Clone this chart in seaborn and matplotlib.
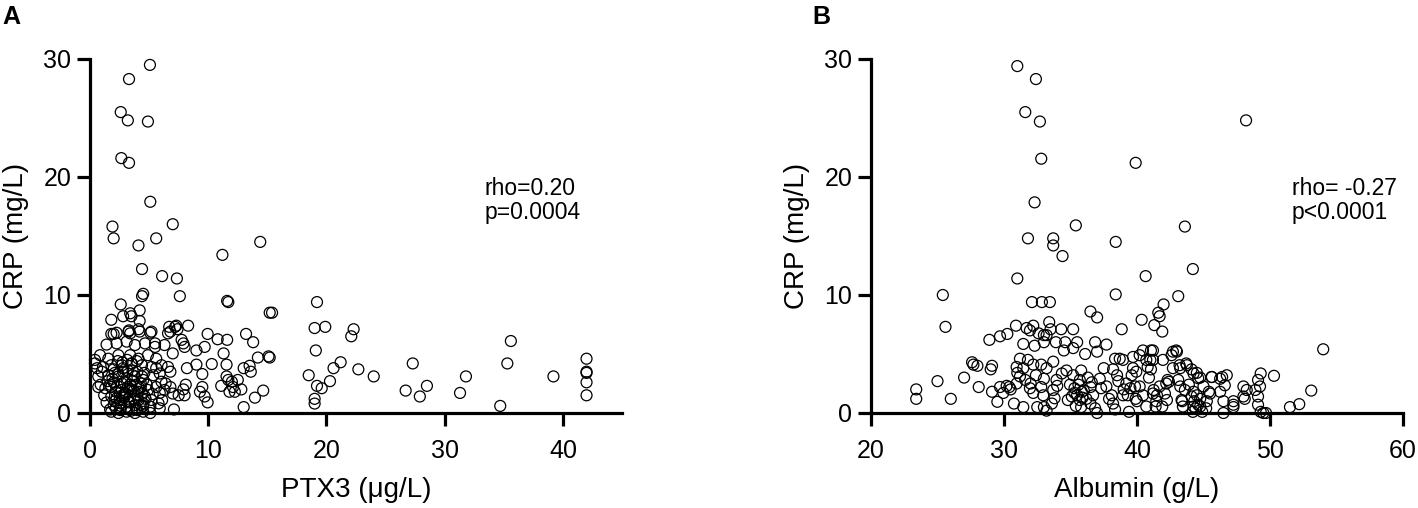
import numpy as np
import pandas as pd
import seaborn as sns
import matplotlib
matplotlib.use('Agg')
import matplotlib.pyplot as plt

# ---- panel A: PTX3 vs CRP ----
ptx3 = [5.07, 3.3, 2.6, 3.2, 4.9, 2.65, 3.3, 5.1, 1.9, 2.0, 7.0, 5.6, 4.1, 14.4, 11.2,
        4.4, 6.1, 7.35, 4.4, 4.5, 7.6, 11.6, 11.7, 15.2, 2.6, 4.2,
        1.8, 2.8, 3.5, 4.2, 3.3, 4.1, 5.2, 7.3, 6.7, 7.2, 8.3, 7.4, 6.6, 1.8, 2.0,
        5.5, 7.0, 7.9, 8.0, 7.75, 9.0, 9.7, 9.95, 10.8, 11.6, 13.2, 13.8, 11.3, 15.1,
        14.2, 10.3, 9.0, 8.2, 6.6, 9.5, 11.55, 13.0, 13.5, 13.6, 11.55, 11.7, 12.0,
        12.1, 11.8, 12.25, 11.1, 12.8, 12.5, 14.65, 13.95, 13.0, 9.5, 9.3, 9.7, 9.95,
        8.1, 7.9, 7.5, 7.0, 8.0, 7.1, 6.8, 6.4, 5.9, 5.6, 5.9, 6.1, 5.9,
        3.4, 2.25, 3.24, 3.4, 4.2, 5.1, 6.8,
        1.4, 2.25, 3.1, 3.8, 4.65, 5.5, 6.3,
        0.85, 1.55, 2.4, 3.4, 4.1, 4.9, 5.6,
        0.42, 1.1, 1.8, 2.7, 3.5, 4.4, 5.2, 6.05, 6.8,
        0.7, 1.55, 2.4, 3.1, 3.8, 4.5, 5.35, 6.05,
        1.3, 1.8, 2.7, 3.4, 4.2, 4.9, 5.6, 6.3,
        1.8, 2.25, 2.7, 3.4, 4.1, 4.65, 5.2,
        2.0, 2.6, 3.1, 3.8, 4.5, 5.1, 5.8,
        1.8, 2.4, 3.1, 3.8, 4.5, 5.1,
        1.7, 2.55, 3.3, 4.0,
        2.0, 2.9, 3.6, 4.3, 2.2, 3.0, 3.7, 4.4, 2.5, 3.3, 4.0, 3.2, 2.8, 3.6, 4.6,
        2.1, 1.5, 1.2, 1.4, 4.8, 5.3, 1.0, 0.6, 0.9, 0.42, 0.7,
        # extra marks in the dark core of the cluster
        1.9, 2.3, 2.7, 3.0, 3.5, 3.9, 4.3, 4.7, 2.1, 2.5, 2.9, 3.3, 3.7, 4.1, 4.5,
        2.0, 2.4, 2.8, 3.2, 3.6, 4.0, 4.4, 1.7, 2.2, 2.6, 3.5, 3.9, 4.3, 2.9, 3.3,
        2.35, 2.75, 3.15, 3.55, 3.95,
        19.2, 19.0, 19.9, 19.1, 22.3, 22.1, 21.2, 20.6, 22.7, 18.5, 24.0, 20.3, 19.2,
        19.6, 19.0, 19.0, 27.3, 26.7, 28.5, 27.9, 31.8, 31.3, 34.7, 35.6, 35.3, 39.2,
        42.0, 42.0, 42.0, 42.0, 42.0, 15.4, 15.2]
crp_a = [29.5, 28.3, 25.5, 24.8, 24.7, 21.6, 21.2, 17.9, 15.8, 14.8, 16.0, 14.8, 14.2, 14.5, 13.4,
         12.2, 11.6, 11.4, 9.9, 10.1, 9.9, 9.5, 9.4, 8.5, 9.2, 8.7,
         7.9, 8.2, 8.2, 7.8, 7.0, 7.1, 6.9, 7.4, 7.3, 7.3, 7.4, 7.1, 6.75, 6.7, 6.7,
         5.9, 5.05, 5.9, 5.6, 6.2, 5.3, 5.6, 6.7, 6.25, 6.2, 6.7, 6.0, 5.05, 4.8,
         4.7, 4.15, 4.1, 3.8, 3.9, 3.3, 4.1, 3.8, 4.0, 3.5, 3.1, 2.8, 2.65,
         2.2, 1.8, 1.8, 2.3, 2.0, 2.8, 1.9, 1.3, 0.5, 2.2, 1.8, 1.4, 0.9,
         2.4, 2.0, 1.5, 1.65, 1.5, 0.3, 2.2, 2.5, 3.35, 3.8, 1.7, 1.1, 0.4,
         8.45, 6.8, 6.9, 6.75, 6.9, 6.8, 6.9,
         5.8, 5.9, 6.05, 5.76, 5.9, 5.6, 5.76,
         4.9, 4.6, 4.9, 4.9, 4.6, 4.9, 4.6,
         4.2, 3.9, 4.05, 4.05, 4.2, 4.05, 3.9, 4.05, 3.5,
         3.1, 3.2, 3.1, 2.95, 3.1, 2.8, 3.2, 2.65,
         2.1, 2.2, 1.95, 2.4, 2.1, 1.95, 2.2, 1.95,
         1.4, 1.25, 1.4, 1.4, 1.1, 1.4, 1.1,
         0.68, 0.82, 0.54, 0.68, 0.82, 0.54, 0.82,
         0.11, 0.0, 0.11, 0.0, 0.11, 0.0,
         0.3, 0.25, 0.3, 0.25,
         2.6, 2.6, 2.7, 2.5, 1.8, 1.7, 1.9, 1.7, 1.1, 1.0, 1.5, 2.2, 3.5, 3.6, 3.4,
         3.4, 2.7, 1.5, 0.9, 2.4, 1.6, 3.5, 3.8, 2.4, 4.5, 2.2,
         2.9, 2.3, 2.5, 1.6, 2.0, 2.4, 2.2, 1.2, 1.0, 1.7, 1.3, 0.9, 1.2, 1.8, 0.6,
         3.7, 3.3, 3.8, 3.6, 3.2, 3.5, 3.1, 2.4, 0.4, 0.6, 0.2, 0.4, 0.7, 1.5, 2.05,
         4.4, 4.3, 4.5, 4.2, 4.4,
         9.4, 7.2, 7.3, 5.3, 7.1, 6.5, 4.3, 3.8, 3.7, 3.2, 3.1, 2.7, 2.3,
         2.1, 1.2, 0.8, 4.2, 1.9, 2.3, 1.4, 3.1, 1.7, 0.6, 6.1, 4.2, 3.1,
         4.6, 3.5, 3.4, 2.6, 1.5, 8.5, 4.7]

# ---- panel B: Albumin vs CRP ----
albumin = [31.0, 32.4, 31.6, 32.7, 32.8, 39.9, 48.2, 32.3, 35.4, 43.6, 31.8, 33.7, 33.7, 34.4,
           38.4, 31.0, 40.65, 44.2, 25.4, 38.4, 43.1,
           23.4, 23.4, 25.0, 25.6, 26.0, 27.0, 27.6, 27.7, 28.0, 28.1, 28.9, 29.1, 29.0,
           29.1, 29.5, 29.7, 30.25, 30.9, 30.2, 30.4, 30.5, 30.75, 32.1, 32.85, 33.45,
           42.0, 41.6, 41.7, 40.35, 41.3, 41.9, 36.5, 37.0, 38.85,
           31.7, 31.95, 32.2, 33.4, 33.5, 34.3, 35.2, 32.6, 33.0, 33.2, 33.0, 33.9, 34.6,
           35.5, 31.45, 32.3, 34.5, 35.2, 36.85, 37.7, 37.0, 36.1, 33.7, 33.2, 32.8, 32.2,
           31.2, 31.8, 30.95, 31.45, 31.2, 30.95, 29.7, 29.95,
           31.45, 32.5, 33.0, 33.6, 31.95, 32.2, 32.8, 32.95, 33.7, 33.95, 33.8, 34.35,
           34.7, 35.2, 35.8, 35.7, 34.96, 35.3, 35.5, 35.7, 35.1, 35.85, 36.5, 36.7, 36.5,
           36.85, 37.2, 37.5, 37.3, 37.7, 38.1, 38.2, 38.35, 38.35, 38.7, 38.95, 38.2,
           38.5, 38.95, 39.3, 39.5, 39.85, 39.2, 39.6, 39.95, 39.7, 39.7, 40.2, 40.45,
           40.7, 41.05, 41.2, 40.8, 41.05, 40.2, 40.45, 40.7, 41.45, 41.2, 41.7, 42.2,
           41.95, 42.7, 42.95, 43.2, 43.7, 42.3, 44.1, 44.5, 44.75, 44.25, 44.5, 44.75,
           44.1, 43.35, 43.45, 44.25, 44.75, 45.5, 45.6, 46.25, 46.75, 46.25, 46.5, 47.25,
           48.0, 48.1,
           54.0, 53.1, 52.2, 51.5, 50.3, 49.3, 49.1, 49.25, 48.9, 49.1, 49.1, 49.5, 49.7,
           48.25, 48.0, 47.25, 47.25, 46.5, 46.4, 46.6, 45.63, 45.4, 45.25, 45.0, 44.6,
           44.25, 44.3, 44.6, 44.4, 45.2, 43.75, 43.25, 43.0, 42.6, 41.2, 41.0, 42.4, 43.1,
           43.25, 43.6, 43.4, 42.1, 42.25, 41.5, 41.4, 41.9, 41.25,
           33.2, 37.0, 39.4, 44.2, 44.9, 49.3, 35.4, 35.8, 35.6, 36.0, 35.3, 36.2,
           31.6, 32.4, 33.0, 31.0, 32.0,
           34.0, 34.8, 36.3, 37.9, 39.0, 40.0, 42.7, 35.9, 36.6, 38.6, 39.9, 40.9, 43.9]
crp_b = [29.4, 28.3, 25.5, 24.7, 21.55, 21.2, 24.8, 17.85, 15.9, 15.8, 14.8, 14.8, 14.2, 13.3,
         14.5, 11.4, 11.6, 12.2, 10.0, 10.05, 9.9,
         2.0, 1.2, 2.7, 7.3, 1.2, 3.0, 4.3, 4.1, 4.0, 2.2, 6.2, 4.0, 3.7,
         1.8, 0.95, 6.5, 6.7, 7.4, 2.3, 2.2, 2.0, 0.8, 9.4, 9.4, 9.4,
         9.2, 8.5, 8.2, 7.9, 7.45, 6.9, 8.6, 8.1, 7.1,
         7.2, 7.0, 7.4, 7.7, 7.1, 7.1, 7.1, 6.75, 6.6, 6.6, 6.0, 6.0, 6.0,
         6.0, 5.85, 5.7, 5.3, 5.5, 6.0, 5.8, 5.2, 5.0, 4.35, 3.8, 4.1, 4.1,
         4.6, 4.5, 3.9, 3.8, 3.1, 2.5, 2.2, 1.7,
         0.5, 0.5, 0.5, 0.8, 2.1, 1.7, 2.2, 1.5, 1.95, 2.8, 1.25, 3.35,
         3.6, 3.2, 3.6, 2.8, 2.4, 2.1, 1.5, 1.1, 1.4, 1.8, 2.2, 1.5, 0.8,
         0.4, 2.9, 3.8, 2.1, 2.25, 1.5, 0.8, 0.3, 4.6, 4.6, 4.5, 3.7,
         3.2, 1.5, 1.5, 2.1, 2.25, 2.5, 3.2, 3.5, 3.8, 4.75, 4.9, 5.3,
         4.5, 5.3, 4.5, 3.9, 3.7, 2.25, 1.5, 0.55, 1.0, 1.65, 2.25, 2.5,
         4.5, 5.2, 5.3, 4.05, 4.2, 2.8, 3.7, 3.4, 3.0, 1.8, 1.5, 1.2,
         1.4, 1.1, 0.55, 0.55, 0.55, 1.65, 3.05, 2.9, 3.2, 1.8, 1.0, 0.7,
         2.25, 1.2,
         5.4, 1.9, 0.75, 0.5, 3.15, 3.35, 2.8, 2.25, 1.95, 1.4, 0.7, 0.0, 0.0,
         1.95, 1.4, 1.0, 0.5, 0.0, 3.05, 2.35, 3.05, 1.8, 1.0, 2.25, 2.95,
         3.35, 1.0, 0.7, 0.4, 0.4, 4.05, 3.8, 5.2, 4.9, 5.3, 4.5, 2.65, 2.8,
         2.25, 1.95, 1.0, 1.65, 1.1, 1.5, 0.55, 0.55, 1.95,
         0.2, 0.0, 0.1, 0.1, 0.1, 0.1, 0.6, 0.5, 2.4, 1.9, 1.7, 1.2,
         2.8, 3.2, 2.9, 3.4, 2.5,
         2.3, 1.1, 3.0, 1.2, 2.0, 1.0, 3.8, 1.3, 2.6, 2.7, 1.2, 3.0, 2.4]

df_a = pd.DataFrame({'PTX3': ptx3, 'CRP': crp_a})
df_b = pd.DataFrame({'Albumin': albumin, 'CRP': crp_b})

sns.set_style('ticks')
plt.rcParams['font.family'] = ['Liberation Sans', 'DejaVu Sans']
plt.rcParams['text.color'] = 'black'
plt.rcParams['axes.labelcolor'] = 'black'
plt.rcParams['xtick.color'] = 'black'
plt.rcParams['ytick.color'] = 'black'

W, H = 1418, 508
fig = plt.figure(figsize=(W / 100, H / 100), dpi=100)

# axes boxes in pixel terms: left, right, top(y=30), bottom(y=0)
ax_a = fig.add_axes([90 / W, 1 - 413 / H, (622 - 90) / W, (413 - 59) / H])
ax_b = fig.add_axes([871 / W, 1 - 413 / H, (1403 - 871) / W, (413 - 59) / H])

marker_kw = dict(s=62, facecolor='none', edgecolor='black', linewidth=0.9,
                 clip_on=False, zorder=3, legend=False)
sns.scatterplot(data=df_a, x='PTX3', y='CRP', ax=ax_a, **marker_kw)
sns.scatterplot(data=df_b, x='Albumin', y='CRP', ax=ax_b, **marker_kw)

def style_axis(ax, xlim, xticks, xlabel):
    ax.set_xlim(*xlim)
    ax.set_ylim(0, 30)
    ax.set_xticks(xticks)
    ax.set_yticks([0, 10, 20, 30])
    for side in ['top', 'right']:
        ax.spines[side].set_visible(False)
    for side in ['left', 'bottom']:
        ax.spines[side].set_linewidth(2.3)
        ax.spines[side].set_color('black')
    ax.tick_params(axis='both', length=9.5, width=2.3, color='black',
                   labelsize=18, labelcolor='black')
    ax.tick_params(axis='x', pad=9)
    ax.tick_params(axis='y', pad=4)
    ax.set_xlabel(xlabel, fontsize=20, labelpad=10)
    ax.set_ylabel('CRP (mg/L)', fontsize=20, labelpad=10)
    ax.set_facecolor('none')

style_axis(ax_a, (0, 45), [0, 10, 20, 30, 40], 'PTX3 (μg/L)')
style_axis(ax_b, (20, 60), [20, 30, 40, 50, 60], 'Albumin (g/L)')

narrow = ['Liberation Sans Narrow', 'Liberation Sans', 'DejaVu Sans']
ax_a.text(33.4, 18.5, 'rho=0.20', fontsize=16.5, family=narrow, va='baseline')
ax_a.text(33.4, 16.45, 'p=0.0004', fontsize=16.5, family=narrow, va='baseline')
ax_b.text(51.65, 18.5, 'rho= -0.27', fontsize=16.5, family=narrow, va='baseline')
ax_b.text(51.65, 16.45, 'p<0.0001', fontsize=16.5, family=narrow, va='baseline')

fig.text(2 / W, 1 - 24 / H, 'A', fontsize=18, fontweight='bold', va='baseline')
fig.text(812 / W, 1 - 24 / H, 'B', fontsize=18, fontweight='bold', va='baseline')

fig.savefig('out.png', dpi=100)
